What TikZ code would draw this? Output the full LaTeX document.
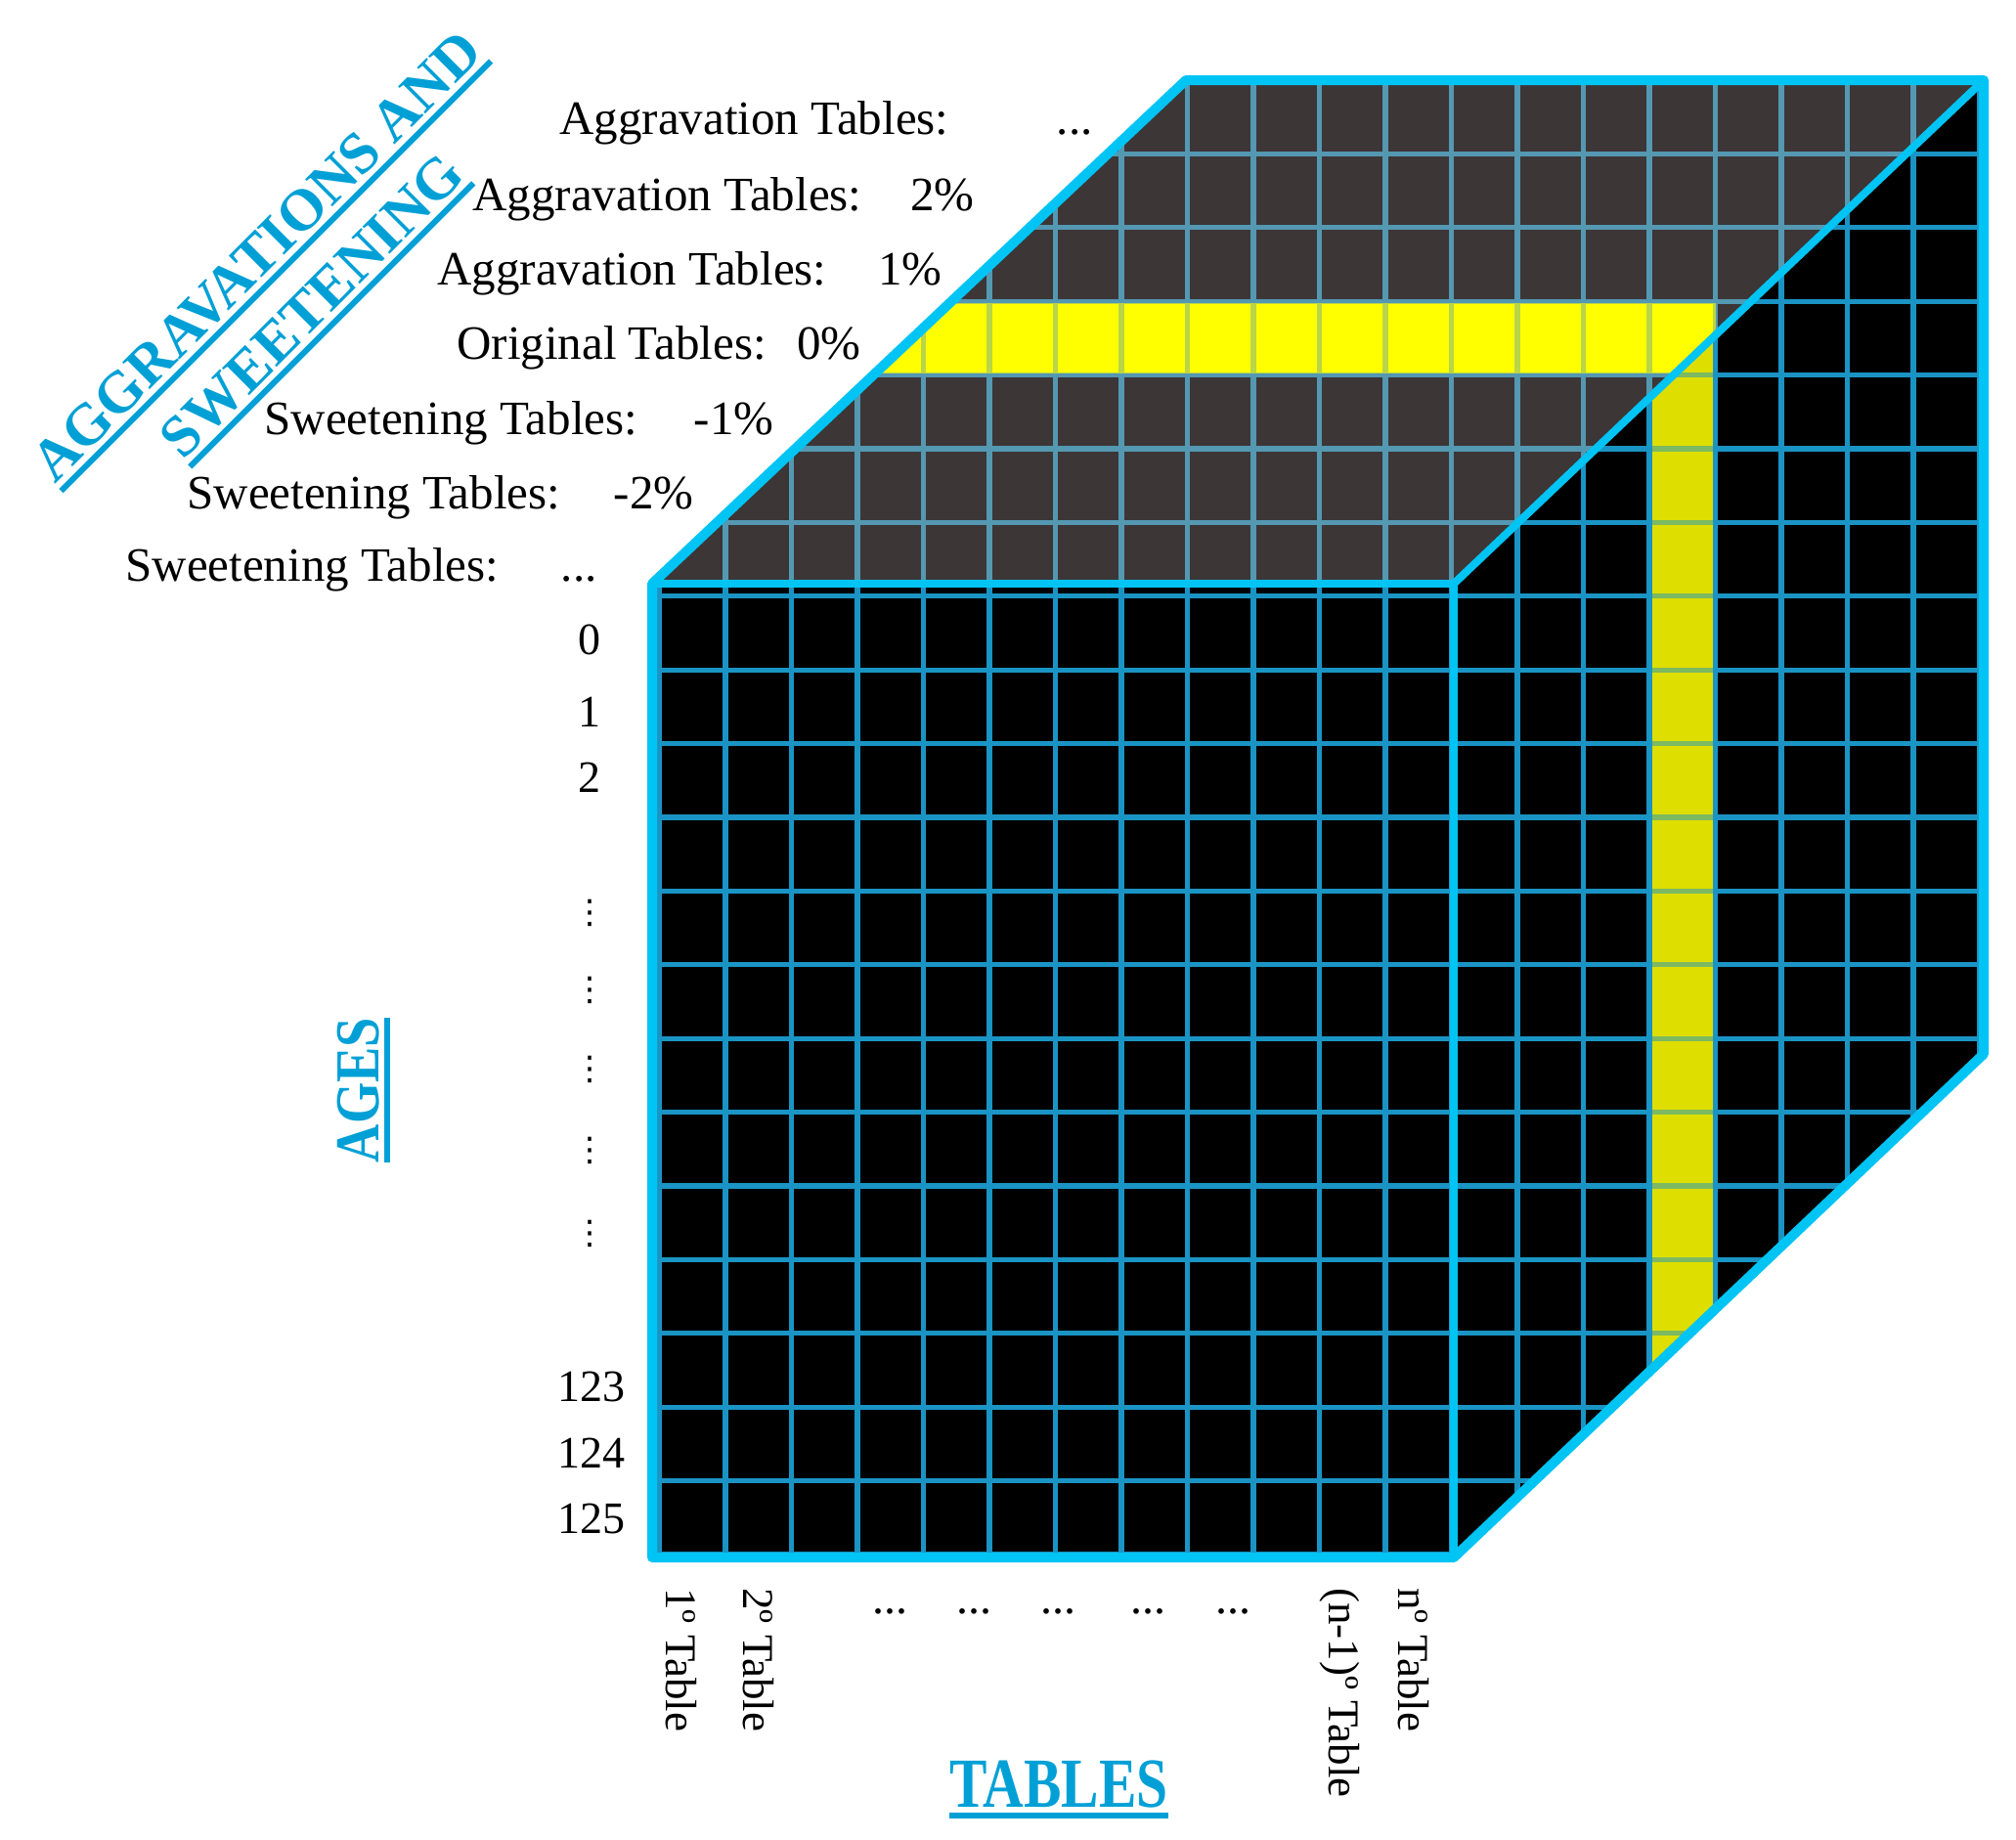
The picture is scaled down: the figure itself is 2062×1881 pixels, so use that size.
\documentclass[tikz,border=0pt]{standalone}
\usepackage{fontspec}
\setmainfont{Liberation Serif}
\newfontfamily\dejavu{DejaVu Sans}
\usepackage{graphicx}
\definecolor{topgray}{RGB}{60,54,54}
\definecolor{gridfront}{RGB}{26,148,196}
\definecolor{gridtop}{RGB}{84,152,178}
\definecolor{edgecyan}{RGB}{0,196,244}
\definecolor{titlecyan}{RGB}{0,160,214}
\definecolor{yel}{RGB}{255,255,0}
\definecolor{yelcol}{RGB}{222,222,0}
\newcommand\ulin[1]{\vtop{\hbox{#1}\kern2.5pt\hrule height 3pt}}
\begin{document}
\begin{tikzpicture}[x=0.5pt,y=-0.5pt,
  lab/.style={font=\fontsize{24.5}{28}\selectfont, inner sep=0pt, anchor=base west},
  val/.style={font=\fontsize{24.5}{28}\selectfont, inner sep=0pt, anchor=base east},
  age/.style={font=\fontsize{23}{26}\selectfont, inner sep=0pt, anchor=base},
  agedots/.style={font=\dejavu\fontsize{17}{20}\selectfont, inner sep=0pt},
  tab/.style={font=\fontsize{22.5}{26}\selectfont, inner sep=0pt, rotate=-90, anchor=west},
  hdots/.style={font=\fontsize{24}{28}\selectfont, inner sep=0pt},
  title/.style={font=\fontsize{30}{34}\selectfont\bfseries, text=titlecyan, inner sep=0pt, anchor=base},
  outeredge/.style={draw=edgecyan, line width=5pt, line join=round},
  inneredge/.style={draw=edgecyan, line width=4pt},
  gline/.style={line width=2.6pt},
]
\useasboundingbox (0,0) rectangle (2062,1881);
% cube corners
\coordinate (FTL) at (667,597);
\coordinate (FTR) at (1487,597);
\coordinate (FBR) at (1487,1593);
\coordinate (FBL) at (667,1593);
\coordinate (BTL) at (1213,82);
\coordinate (BTR) at (2029,82);
\coordinate (BBR) at (2029,1078);
% faces
\fill[topgray] (FTL) -- (BTL) -- (BTR) -- (FTR) -- cycle;
\fill[black] (FTL) rectangle (FBR);
\fill[black] (FTR) -- (BTR) -- (BBR) -- (FBR) -- cycle;
% yellow highlights
\begin{scope}
  \clip (FTL) -- (BTL) -- (BTR) -- (FTR) -- cycle;
  \fill[yel] (600,309) rectangle (1754.5,385);
\end{scope}
\begin{scope}
  \clip (FTR) -- (BTR) -- (BBR) -- (FBR) -- cycle;
  \fill[yelcol] (1687,0) rectangle (1754.5,1700);
\end{scope}
% grid on top face
\begin{scope}
  \clip (FTL) -- (BTL) -- (BTR) -- (FTR) -- cycle;
  \foreach \k in {0,...,20}{\draw[gline, gridtop] ({674.5+67.5*\k},0) -- ({674.5+67.5*\k},1700);}
  \foreach \i in {0,...,20}{\draw[gline, gridtop] (600,{82+75.4*\i}) -- (2100,{82+75.4*\i});}
  \fill[yel, opacity=0.6] (600,310) rectangle (1754.5,382);
\end{scope}
% grid on front face
\begin{scope}
  \clip (FTL) rectangle (FBR);
  \foreach \k in {0,...,20}{\draw[gline, gridfront] ({674.5+67.5*\k},0) -- ({674.5+67.5*\k},1700);}
  \foreach \i in {0,...,20}{\draw[gline, gridfront] (600,{82+75.4*\i}) -- (2100,{82+75.4*\i});}
\end{scope}
% grid on right face
\begin{scope}
  \clip (FTR) -- (BTR) -- (BBR) -- (FBR) -- cycle;
  \foreach \k in {0,...,20}{\draw[gline, gridfront] ({674.5+67.5*\k},0) -- ({674.5+67.5*\k},1700);}
  \foreach \i in {0,...,20}{\draw[gline, gridfront] (600,{82+75.4*\i}) -- (2100,{82+75.4*\i});}
  \fill[yelcol, opacity=0.5] (1690,0) rectangle (1751.5,1700);
\end{scope}
% cube edges
\draw[inneredge] (FTL) -- (FTR) -- (FBR);
\draw[inneredge] (FTR) -- (BTR);
\draw[outeredge] (FTL) -- (BTL) -- (BTR) -- (BBR) -- (FBR) -- (FBL) -- cycle;
% depth labels
\node[lab] (a3n) at (572,137) {Aggravation Tables:};
\node[val] (a3v) at (1118,137) {...};
\node[lab] (a2n) at (483,215) {Aggravation Tables:};
\node[val] (a2v) at (997,215) {2\%};
\node[lab] (a1n) at (447,291) {Aggravation Tables:};
\node[val] (a1v) at (964,291) {1\%};
\node[lab] (o0n) at (467,367) {Original Tables:};
\node[val] (o0v) at (881,367) {0\%};
\node[lab] (s1n) at (270,444) {Sweetening Tables:};
\node[val] (s1v) at (792,444) {-1\%};
\node[lab] (s2n) at (191,520) {Sweetening Tables:};
\node[val] (s2v) at (710,520) {-2\%};
\node[lab] (s3n) at (128,594) {Sweetening Tables:};
\node[val] (s3v) at (611,594) {...};
% age labels
\node[age] (g0) at (603,669) {0};
\node[age] (g1) at (603,743) {1};
\node[age] (g2) at (603,810) {2};
\node[agedots] (d1) at (603,934) {⋮};
\node[agedots] (d2) at (603,1013) {⋮};
\node[agedots] (d3) at (603,1094) {⋮};
\node[agedots] (d4) at (603,1177) {⋮};
\node[agedots] (d5) at (603,1262) {⋮};
\node[age] (g123) at (605,1433) {123};
\node[age] (g124) at (605,1501) {124};
\node[age] (g125) at (605,1568) {125};
% table labels
\node[tab] (t1) at (697,1624) {1º Table};
\node[tab] (t2) at (776,1624) {2º Table};
\node[hdots] (h1) at (910,1648) {...};
\node[hdots] (h2) at (996,1648) {...};
\node[hdots] (h3) at (1082,1648) {...};
\node[hdots] (h4) at (1174,1648) {...};
\node[hdots] (h5) at (1261,1648) {...};
\node[tab] (tn1) at (1370,1624) {(n-1)º Table};
\node[tab] (tn) at (1446,1624) {nº Table};
% axis titles
\node[title, rotate=45] (ttl1) at (276,276) {\ulin{AGGRAVATIONS AND}};
\node[title, rotate=45] (ttl2) at (333,326) {\ulin{SWEETENING}};
\node[title, rotate=90, font=\fontsize{32}{36}\selectfont\bfseries] (ages) at (387,1115) {\scalebox{0.85}[1]{\ulin{AGES}}};
\node[title, font=\fontsize{36}{40}\selectfont\bfseries] (tables) at (1083,1848) {\scalebox{0.8}[1]{\ulin{TABLES}}};
\end{tikzpicture}
\end{document}
